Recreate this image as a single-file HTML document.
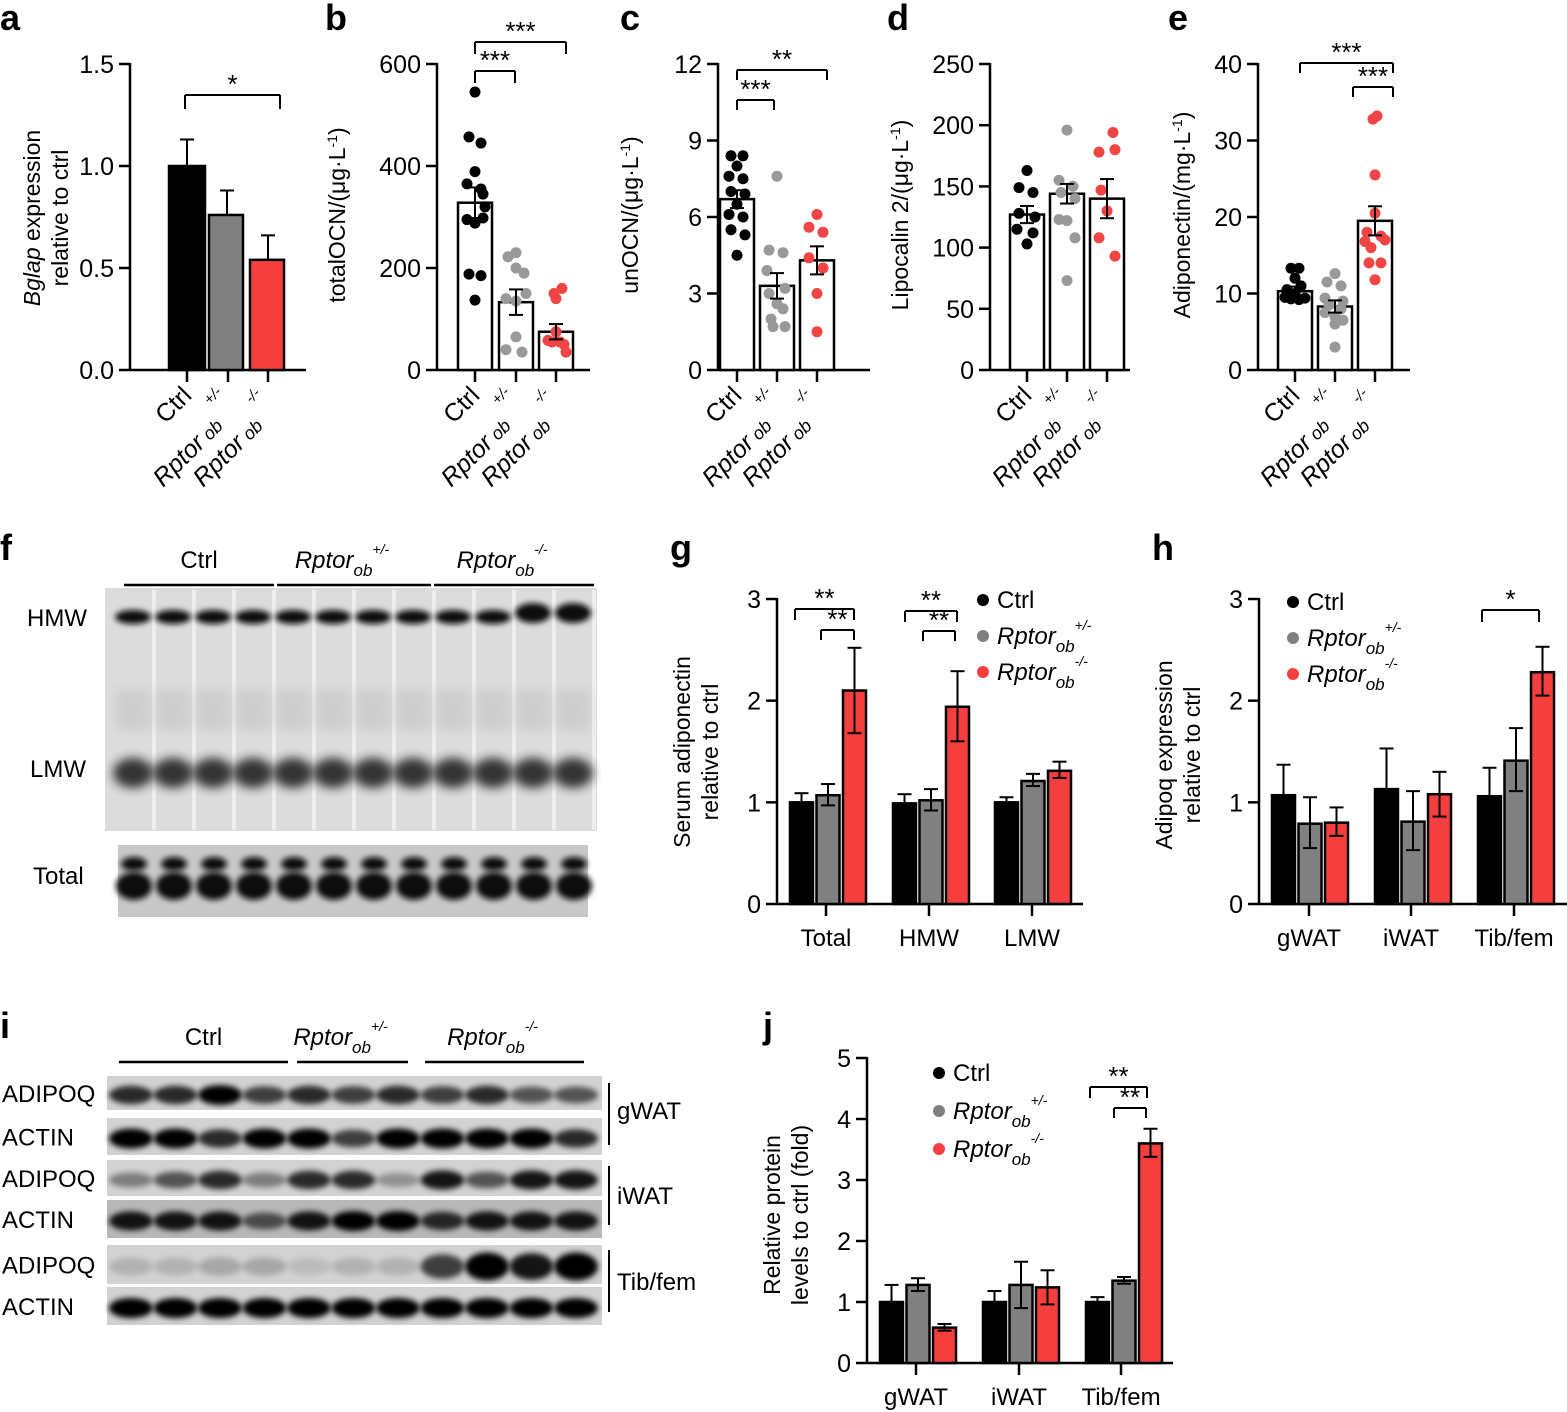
<!DOCTYPE html>
<html><head><meta charset="utf-8"><style>
html,body{margin:0;padding:0;background:#fff}
svg{display:block;font-family:"Liberation Sans",Arial,sans-serif}
</style></head><body>
<svg id="s" width="1567" height="1412" viewBox="0 0 1567 1412" xmlns="http://www.w3.org/2000/svg">
<defs>
<filter id="bl" x="-20%" y="-50%" width="140%" height="200%"><feGaussianBlur stdDeviation="3"/></filter>
<filter id="bl2" x="-20%" y="-50%" width="140%" height="200%"><feGaussianBlur stdDeviation="5"/></filter>
</defs>
<g id="g"></g>
</svg>
<script>
var G=document.getElementById('g'),out='';
function L(x1,y1,x2,y2,w){out+='<line x1="'+x1+'" y1="'+y1+'" x2="'+x2+'" y2="'+y2+'" stroke="#000" stroke-width="'+(w||2.5)+'"/>';}
function R(x,y,w,h,f,s){out+='<rect x="'+x+'" y="'+y+'" width="'+w+'" height="'+h+'" fill="'+f+'"'+(s?' stroke="#000" stroke-width="2.5"':'')+'/>';}
function T(x,y,t,sz,anc,extra){out+='<text x="'+x+'" y="'+y+'" font-size="'+sz+'" text-anchor="'+(anc||'start')+'" '+(extra||'')+'>'+t+'</text>';}
function C(x,y,r,f){out+='<circle cx="'+x+'" cy="'+y+'" r="'+r+'" fill="'+f+'"/>';}
var K='#000',GR='#808080',RD='#f53f3f',LG='#999',LR='#f04545';
function axis(ax,y0,yt,xe,ticks,labs,tx){
 L(ax,yt-1,ax,y0+1);L(ax,y0,xe,y0);
 for(var i=0;i<ticks.length;i++){var y=y0-(y0-yt)*i/(ticks.length-1);L(ax-11,y,ax,y);T(ax-16,y+9,ticks[i],25,'end');}
 (tx||[]).forEach(function(x){L(x,y0,x,y0+12);});
}
function ylab(x,y,lines){lines.forEach(function(l,i){out+='<text transform="translate('+(x+i*28)+','+y+') rotate(-90)" font-size="23" text-anchor="middle">'+l+'</text>';});}
function brk(x1,x2,y,h,st){L(x1,y,x2,y,2);L(x1,y,x1,y+h,2);L(x2,y,x2,y+h,2);T((x1+x2)/2,y-2,st,26,'middle');}
function err(x,y1,y2){L(x,y1,x,y2,2);L(x-7,y1,x+7,y1,2);L(x-7,y2,x+7,y2,2);}
function xlabs(xs,y){
 var sup=['','+/-','-/-'];
 xs.forEach(function(x,i){
  if(i==0){out+='<text transform="translate('+(x+6)+','+(y-8)+') rotate(-45)" font-size="25" text-anchor="end">Ctrl</text>';return;}
  out+='<text transform="translate('+(x-4)+','+(y+22)+') rotate(-45)" font-size="25" text-anchor="end"><tspan font-style="italic">Rptor</tspan><tspan font-style="italic" font-size="18" dx="5">ob</tspan></text>';
  out+='<text transform="translate('+(x-12)+','+(y-6)+') rotate(-45)" font-size="15" font-style="italic" text-anchor="middle">'+sup[i]+'</text>';});
}
[['a',0,30],['b',325,30],['c',620,30],['d',887,30],['e',1168,30],['f',0,560],['g',670,560],['h',1152,560],['i',0,1038],['j',763,1038]].forEach(function(p){T(p[1],p[2],p[0],36,'start','font-weight="bold"');});

var y0=370,yt=64;
axis(130,y0,yt,306,['0.0','0.5','1.0','1.5'],0,[187,228,268]);
function yv(v,max){return y0-(y0-yt)*v/max;}
R(169,yv(1.0,1.5),36,y0-yv(1.0,1.5),K,1);R(209,yv(0.76,1.5),34,y0-yv(0.76,1.5),GR,1);R(250,yv(0.54,1.5),34,y0-yv(0.54,1.5),RD,1);
err(187,yv(1.0,1.5),yv(1.13,1.5));err(227,yv(0.76,1.5),yv(0.88,1.5));err(268,yv(0.54,1.5),yv(0.66,1.5));
brk(185,280,95,14,'*');
out+='<text transform="translate(40,218) rotate(-90)" font-size="23" text-anchor="middle"><tspan font-style="italic">Bglap</tspan> expression</text>';
out+='<text transform="translate(68,218) rotate(-90)" font-size="23" text-anchor="middle">relative to ctrl</text>';
xlabs([187,228,268],405);

function dots(ax,xe,ticks,max,cen,means,sems,pts){
 axis(ax,y0,yt,xe,ticks,0,cen);
 var cols=[K,LG,LR];
 for(var i=0;i<3;i++){var yy=yv(means[i],max);R(cen[i]-17,yy,34,y0-yy,'#fff',1);}
 for(var i=0;i<3;i++){pts[i].forEach(function(p){C(cen[i]+p[0],yv(p[1],max),5.5,cols[i]);});}
 for(var i=0;i<3;i++){err(cen[i],yv(means[i]-sems[i],max),yv(means[i]+sems[i],max));}
 xlabs(cen,405);
}
dots(437,590,['0','200','400','600'],600,[475,516,556],[328,133,75],[30,25,15],
[[[0,545],[-6,457],[6,445],[0,389],[-8,365],[6,355],[8,345],[10,320],[8,298],[-8,295],[0,288],[-6,188],[6,185],[0,137]],
 [[-8,222],[0,230],[0,200],[8,190],[10,150],[-10,140],[0,135],[0,65],[-10,40],[6,35]],
 [[6,160],[-2,150],[0,140],[0,75],[-8,58],[-4,55],[4,55],[8,50],[10,35]]]);
brk(475,515,71,12,'***');brk(475,566,42,12,'***');
ylab(345,215,['totalOCN/(μg·L<tspan baseline-shift="super" font-size="14">-1</tspan>)']);
dots(718,870,['0','3','6','9','12'],12,[737,777,817],[6.7,3.3,4.3],[0.35,0.5,0.55],
[[[-6,8.4],[6,8.4],[0,8.0],[-8,7.6],[6,7.5],[-6,7.0],[8,6.9],[0,6.5],[-8,6.1],[6,6.0],[-6,5.5],[8,5.3],[0,4.5]],
 [[0,7.6],[-8,4.7],[6,4.6],[-10,3.9],[8,3.2],[-8,3.0],[0,2.6],[6,2.4],[-6,2.0],[8,1.7],[-4,1.7]],
 [[0,6.1],[-8,5.6],[6,5.4],[-8,4.4],[6,4.0],[0,3.0],[0,1.5]]]);
brk(737,774,100,10,'***');brk(737,827,70,10,'**');
ylab(638,215,['unOCN/(μg·L<tspan baseline-shift="super" font-size="14">-1</tspan>)']);
dots(990,1130,['0','50','100','150','200','250'],250,[1027,1067,1107],[127,144,140],[7,8,16],
[[[0,163],[-8,149],[6,145],[-8,128],[8,125],[-10,115],[6,112],[0,103]],
 [[0,196],[-8,155],[6,150],[-6,145],[8,140],[0,122],[-8,123],[8,108],[0,73]],
 [[6,194],[-8,178],[8,180],[-6,147],[0,130],[-8,108],[8,93]]]);
ylab(908,215,['Lipocalin 2/(μg·L<tspan baseline-shift="super" font-size="14">-1</tspan>)']);
dots(1258,1410,['0','10','20','30','40'],40,[1295,1335,1375],[10.3,8.3,19.5],[0.6,0.8,1.9],
[[[-4,13.3],[4,13.3],[0,12.0],[-8,10.5],[6,11],[-10,9.5],[-4,9.3],[4,9.2],[10,9.4],[0,10]],
 [[0,12.6],[-8,11.5],[6,11],[-10,9.4],[8,9.0],[-6,8.5],[6,8.0],[-10,7.5],[0,7.0],[8,6.5],[0,6.0],[0,3.0]],
 [[-2,32.8],[2,33.2],[0,25.5],[0,20.5],[-8,18],[6,17.5],[10,17],[-10,16.8],[-4,16],[-6,14],[6,14],[0,11.8]]]);
brk(1300,1393,63,10,'***');brk(1353,1393,87,10,'***');
ylab(1190,215,['Adiponectin/(mg·L<tspan baseline-shift="super" font-size="14">-1</tspan>)']);

function grouped(ax,Y0,YT,xe,max,ticks,starts,vals,errs,tx,glabs){
 axis(ax,Y0,YT,xe,ticks,0,tx);
 var cols=[K,GR,RD];
 for(var gi=0;gi<3;gi++)for(var b=0;b<3;b++){
  var v=vals[gi][b],x=starts[gi]+b*26.5,yy=Y0-(Y0-YT)*v/max;
  R(x,yy,23,Y0-yy,cols[b],1);
  var e=errs[gi][b];err(x+11.5,Y0-(Y0-YT)*(v-e[0])/max,Y0-(Y0-YT)*(v+e[1])/max);
 }
 glabs.forEach(function(l,i){T(tx[i],Y0+42,l,24,'middle');});
}
function legend(x,y,sp){
 C(x,y-8,6,K);T(x+14,y,'Ctrl',24);
 C(x,y+sp-8,6,GR);out+='<text x="'+(x+14)+'" y="'+(y+sp)+'" font-size="24" font-style="italic">Rptor<tspan font-size="17" dy="8">ob</tspan><tspan font-size="14" dy="-22">+/-</tspan></text>';
 C(x,y+2*sp-8,6,RD);out+='<text x="'+(x+14)+'" y="'+(y+2*sp)+'" font-size="24" font-style="italic">Rptor<tspan font-size="17" dy="8">ob</tspan><tspan font-size="14" dy="-22">-/-</tspan></text>';
}
grouped(777,904,599,1083,3,['0','1','2','3'],[790,893,995],
 [[1,1.07,2.1],[0.99,1.02,1.94],[1,1.21,1.31]],
 [[[0,0.09],[0.1,0.11],[0.42,0.42]],[[0,0.09],[0.1,0.11],[0.34,0.35]],[[0,0.05],[0.05,0.07],[0.07,0.09]]],
 [826,929,1032],['Total','HMW','LMW']);
brk(795,854,609,11,'**');brk(821,854,630,10,'**');brk(905,957,611,11,'**');brk(923,955,631,10,'**');
legend(983,608,36);
ylab(690,752,['Serum adiponectin','relative to ctrl']);
grouped(1259,904,599,1567,3,['0','1','2','3'],[1272,1375,1478],
 [[1.07,0.79,0.8],[1.13,0.81,1.08],[1.06,1.41,2.28]],
 [[[0,0.3],[0.24,0.26],[0.13,0.15]],[[0,0.4],[0.28,0.3],[0.22,0.22]],[[0,0.28],[0.3,0.32],[0.23,0.25]]],
 [1309,1411,1514],['gWAT','iWAT','Tib/fem']);
brk(1482,1539,610,12,'*');
legend(1293,610,36);
ylab(1172,755,['Adipoq expression','relative to ctrl']);
grouped(867,1363,1058,1173,5,['0','1','2','3','4','5'],[880,983,1086],
 [[1,1.28,0.58],[1,1.28,1.24],[1,1.35,3.6]],
 [[[0,0.28],[0.1,0.11],[0.05,0.06]],[[0,0.18],[0.38,0.38],[0.28,0.28]],[[0,0.08],[0.05,0.06],[0.22,0.24]]],
 [916,1019,1121],['gWAT','iWAT','Tib/fem']);
brk(1090,1147,1087,11,'**');brk(1114,1146,1108,10,'**');
legend(939,1081,38);
ylab(780,1215,['Relative protein','levels to ctrl (fold)']);

function hdr(x1,x2,y,label,sup){L(x1,y,x2,y,2.5);
 if(!sup)T((x1+x2)/2,y-17,label,24,'middle');
 else out+='<text x="'+((x1+x2)/2-12)+'" y="'+(y-17)+'" font-size="24" font-style="italic" text-anchor="middle">Rptor<tspan font-size="17" dy="8">ob</tspan><tspan font-size="14" dy="-22">'+sup+'</tspan></text>';}
hdr(124,274,585,'Ctrl');hdr(277,431,585,'',"+/-");hdr(434,594,585,'',"-/-");
T(27,626,'HMW',24);T(30,777,'LMW',24);T(33,884,'Total',24);
R(105,588,492,243,'#dcdcdc');
var lanes=[];for(var i=0;i<12;i++)lanes.push(116+i*40);
lanes.forEach(function(x,i){
 out+='<rect x="'+(x+36)+'" y="590" width="4" height="240" fill="#eeeeee"/>';
 out+='<ellipse cx="'+(x+17)+'" cy="'+(i>9?613:617)+'" rx="18" ry="'+(i>9?10:7)+'" fill="#111" filter="url(#bl)"/>';
 out+='<ellipse cx="'+(x+17)+'" cy="773" rx="20" ry="15" fill="#222" opacity="0.9" filter="url(#bl2)"/>';
 out+='<rect x="'+x+'" y="690" width="34" height="40" fill="#c4c4c4" filter="url(#bl2)" opacity="0.6"/>';
});
R(118,845,470,72,'#c8c8c8');
lanes.forEach(function(x,i){
 out+='<ellipse cx="'+(x+18)+'" cy="886" rx="18" ry="14" fill="#0a0a0a" filter="url(#bl)"/>';
 out+='<ellipse cx="'+(x+18)+'" cy="864" rx="13" ry="7" fill="#111" filter="url(#bl)"/>';
});
hdr(119,288,1062,'Ctrl');hdr(297,408,1062,'',"+/-");hdr(425,584,1062,'',"-/-");
var rows=[[1076,1110,'ADIPOQ'],[1118,1155,'ACTIN'],[1160,1196,'ADIPOQ'],[1200,1238,'ACTIN'],[1245,1284,'ADIPOQ'],[1287,1325,'ACTIN']];
var il=[];for(var i=0;i<11;i++)il.push(128+i*44.5);
var inten=[[0.8,0.8,1,0.7,0.8,0.7,0.8,0.7,0.8,0.6,0.6],[1,1,0.8,1,1,0.7,1,1,1,1,0.8],[0.4,0.6,0.8,0.4,0.8,0.8,0.3,0.9,0.6,0.9,0.9],[0.9,0.9,0.9,0.6,0.9,1,1,0.8,0.9,0.9,0.9],[0.15,0.15,0.2,0.2,0.1,0.15,0.15,0.7,1,0.9,1],[1,1,1,1,1,1,1,1,1,1,1]];
rows.forEach(function(r,ri){
 R(107,r[0],495,r[1]-r[0],ri==3?'#b8b8b8':'#d2d2d2');
 T(2,r[0]+(r[1]-r[0])/2+9,r[2],24);
 il.forEach(function(x,li){var v=inten[ri][li];
  out+='<ellipse cx="'+(x+3)+'" cy="'+((r[0]+r[1])/2+2)+'" rx="22" ry="'+(ri==4?8+6*v:6+4*v)+'" fill="#000" opacity="'+v+'" filter="url(#bl)"/>';});
});
L(609,1083,609,1145,2);L(609,1166,609,1225,2);L(609,1250,609,1312,2);
T(617,1119,'gWAT',24);T(617,1204,'iWAT',24);T(617,1290,'Tib/fem',24);
G.innerHTML=out;
</script>
</body></html>
